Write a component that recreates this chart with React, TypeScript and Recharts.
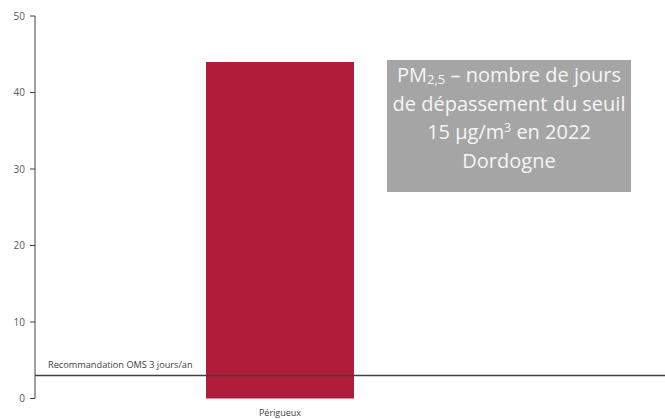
import React from "react";
import { BarChart, Bar, XAxis, YAxis, ReferenceLine, Label } from "recharts";

const categories = ["Périgueux"];
const daysOver = [44];
const yTicks = [0, 10, 20, 30, 40, 50];
const whoThreshold = 3;
const whoLabel = "Recommandation OMS 3 jours/an";

const data = categories.map((c, i) => ({ name: c, value: daysOver[i] }));

const FONT = "'Open Sans', 'Noto Sans', sans-serif";

export default function App() {
  return (
    <div style={{ position: "absolute", left: 0, top: 0, width: 665, height: 419, background: "#fff" }}>
      <style>{"body{margin:0}"}</style>
      <BarChart
        width={665}
        height={419}
        data={data}
        margin={{ top: 16, right: 0, bottom: 0, left: 0 }}
      >
        <XAxis
          dataKey="name"
          axisLine={false}
          tickLine={false}
          tickSize={0}
          tickMargin={11}
          height={20.5}
          padding={{ left: 0, right: 140 }}
          tick={{ fontSize: 9, fill: "#404040", fontFamily: FONT }}
        />
        <YAxis
          width={35}
          domain={[0, 50]}
          ticks={yTicks}
          tickSize={5}
          tickMargin={5}
          axisLine={{ stroke: "#404040", strokeWidth: 1 }}
          tickLine={{ stroke: "#404040", strokeWidth: 1 }}
          tick={{ fontSize: 10, fill: "#595959", fontFamily: FONT }}
        />
        <Bar dataKey="value" fill="#b01c3a" barSize={148} isAnimationActive={false} />
        <ReferenceLine y={whoThreshold} stroke="#404040" strokeWidth={1.5}>
          <Label
            content={(props: any) => {
              const vb = props.viewBox || {};
              return (
                <text
                  x={(vb.x ?? 35) + 13}
                  y={(vb.y ?? 376) - 8}
                  fontSize={9.2}
                  fill="#404040"
                  fontFamily={FONT}
                >
                  {whoLabel}
                </text>
              );
            }}
          />
        </ReferenceLine>
      </BarChart>
      <div
        style={{
          position: "absolute",
          left: 387,
          top: 60,
          width: 244,
          height: 132,
          background: "#a5a5a5",
          color: "#f5f5f5",
          fontFamily: FONT,
          fontSize: 20,
          lineHeight: "28.5px",
          textAlign: "center",
          paddingTop: 1,
          boxSizing: "border-box",
          whiteSpace: "nowrap",
        }}
      >
        <div>
          PM<span style={{ fontSize: 13, verticalAlign: "-2px", lineHeight: 0 }}>2,5</span> – nombre de jours
        </div>
        <div>de dépassement du seuil</div>
        <div>
          15 µg/m<span style={{ fontSize: 12, verticalAlign: "7px", lineHeight: 0 }}>3</span> en 2022
        </div>
        <div>Dordogne</div>
      </div>
    </div>
  );
}
